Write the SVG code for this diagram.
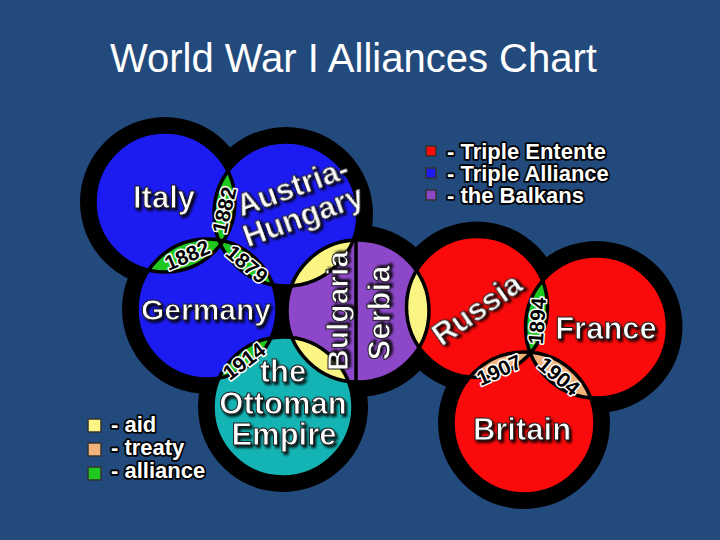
<svg xmlns="http://www.w3.org/2000/svg" width="720" height="540" viewBox="0 0 720 540">
<defs>
<style>
.lbl{font-family:"Liberation Sans",Arial,sans-serif;font-weight:bold;fill:#fff;stroke:#1a1a1a;stroke-width:1;text-anchor:middle;filter:url(#sh)}
.yr{font-family:"Liberation Sans",Arial,sans-serif;font-weight:bold;font-size:21px;fill:#000;stroke:#fff;stroke-width:3;paint-order:stroke;stroke-linejoin:round;text-anchor:middle}
.lg{font-family:"Liberation Sans",Arial,sans-serif;font-weight:bold;font-size:22px;fill:#fff;stroke:#000;stroke-width:3.5;paint-order:stroke;stroke-linejoin:round}
.ol{fill:none;stroke:#000;stroke-width:3.5}
.halo{fill:#000}
.sq{stroke:#333;stroke-width:1.5}
.blue{fill:#1c1cf2}.red{fill:#fa0a0a}.purple{fill:#8c48c8}.teal{fill:#15b4b4}
.yel{fill:#fbf583}.ora{fill:#f2b27c}.grn{fill:#1ec81e}
</style>
<filter id="sh" x="-20%" y="-20%" width="140%" height="160%">
<feDropShadow dx="2" dy="2.5" stdDeviation="0.8" flood-color="#000" flood-opacity="0.85"/>
</filter>
<clipPath id="cItaly"><circle cx="165" cy="202" r="70"/></clipPath>
<clipPath id="cAustria"><circle cx="286" cy="214" r="72"/></clipPath>
<clipPath id="cGermany"><circle cx="207" cy="309" r="70"/></clipPath>
<clipPath id="cOttoman"><circle cx="283" cy="407" r="70"/></clipPath>
<clipPath id="cBalkans"><circle cx="358" cy="311" r="71"/></clipPath>
<clipPath id="cRussia"><circle cx="477" cy="307" r="70.5"/></clipPath>
<clipPath id="cFrance"><circle cx="596.5" cy="327" r="71"/></clipPath>
<clipPath id="cBritain"><circle cx="524" cy="423" r="71"/></clipPath>
</defs>
<rect width="720" height="540" fill="#234a7c"/>
<text x="110" y="72" font-family="'Liberation Sans',Arial,sans-serif" font-size="40" fill="#fff">World War I Alliances Chart</text>

<g id="halo">
<circle class="halo" cx="165" cy="202" r="85"/>
<circle class="halo" cx="286" cy="214" r="87"/>
<circle class="halo" cx="207" cy="309" r="85"/>
<circle class="halo" cx="283" cy="407" r="85"/>
<circle class="halo" cx="358" cy="311" r="86"/>
<circle class="halo" cx="477" cy="307" r="85.5"/>
<circle class="halo" cx="596.5" cy="327" r="86"/>
<circle class="halo" cx="524" cy="423" r="86"/>
</g>

<g id="italy"><circle class="blue" cx="165" cy="202" r="70"/></g>
<g id="austria-hungary"><circle class="blue" cx="286" cy="214" r="72"/></g>
<g id="germany"><circle class="blue" cx="207" cy="309" r="70"/></g>
<g id="ottoman"><circle class="teal" cx="283" cy="407" r="70"/></g>
<g id="balkans"><circle class="purple" cx="358" cy="311" r="71"/></g>
<g id="russia"><circle class="red" cx="477" cy="307" r="70.5"/></g>
<g id="france"><circle class="red" cx="596.5" cy="327" r="71"/></g>
<g id="britain"><circle class="red" cx="524" cy="423" r="71"/></g>

<g id="connectors">
<circle class="grn" cx="286" cy="214" r="72" clip-path="url(#cItaly)"/>
<circle class="grn" cx="207" cy="309" r="70" clip-path="url(#cItaly)"/>
<circle class="grn" cx="207" cy="309" r="70" clip-path="url(#cAustria)"/>
<circle class="grn" cx="283" cy="407" r="70" clip-path="url(#cGermany)"/>
<circle class="yel" cx="358" cy="311" r="71" clip-path="url(#cAustria)"/>
<circle class="yel" cx="358" cy="311" r="71" clip-path="url(#cOttoman)"/>
<circle class="yel" cx="358" cy="311" r="71" clip-path="url(#cRussia)"/>
<circle class="grn" cx="596.5" cy="327" r="71" clip-path="url(#cRussia)"/>
<circle class="ora" cx="524" cy="423" r="71" clip-path="url(#cRussia)"/>
<circle class="ora" cx="524" cy="423" r="71" clip-path="url(#cFrance)"/>
<circle class="ol" cx="165" cy="202" r="70"/>
<circle class="ol" cx="286" cy="214" r="72"/>
<circle class="ol" cx="207" cy="309" r="70"/>
<circle class="ol" cx="283" cy="407" r="70"/>
<circle class="ol" cx="358" cy="311" r="71"/>
<circle class="ol" cx="477" cy="307" r="70.5"/>
<circle class="ol" cx="596.5" cy="327" r="71"/>
<circle class="ol" cx="524" cy="423" r="71"/>
<line x1="356" y1="238" x2="356" y2="384" stroke="#000" stroke-width="3.5"/>
<text class="yr" transform="translate(224,210) rotate(-77)" y="7.5">1882</text>
<text class="yr" transform="translate(187,255) rotate(-23)" y="7.5">1882</text>
<text class="yr" transform="translate(247,264) rotate(40)" y="7.5">1879</text>
<text class="yr" transform="translate(244,361) rotate(-37)" y="7.5">1914</text>
<text class="yr" transform="translate(537,321) rotate(-86)" y="7.5">1894</text>
<text class="yr" transform="translate(499,370) rotate(-24)" y="7.5">1907</text>
<text class="yr" transform="translate(559,376) rotate(40)" y="7.5">1904</text>
</g>

<g id="labels">
<text class="lbl" x="164" y="208" font-size="31">Italy</text>
<g transform="translate(296,197) rotate(-20)">
<text class="lbl" x="0" y="0" font-size="31">Austria-</text>
<text class="lbl" x="0" y="31" font-size="31">Hungary</text>
</g>
<text class="lbl" x="206" y="320" font-size="30">Germany</text>
<text class="lbl" transform="translate(348,311) rotate(-90)" font-size="30">Bulgaria</text>
<text class="lbl" transform="translate(390,313) rotate(-90)" font-size="31">Serbia</text>
<text class="lbl" x="283" y="382" font-size="31">the</text>
<text class="lbl" x="283" y="414" font-size="31">Ottoman</text>
<text class="lbl" x="284" y="445" font-size="31">Empire</text>
<text class="lbl" transform="translate(483,318) rotate(-35)" font-size="31">Russia</text>
<text class="lbl" x="606" y="339" font-size="31">France</text>
<text class="lbl" x="522" y="440" font-size="31">Britain</text>
</g>

<g id="legend-powers">
<rect class="sq red" x="426" y="146" width="10" height="10"/>
<rect class="sq blue" x="426" y="168" width="10" height="10"/>
<rect class="sq purple" x="426" y="190" width="10" height="10"/>
<text class="lg" x="447" y="159">- Triple Entente</text>
<text class="lg" x="447" y="181">- Triple Alliance</text>
<text class="lg" x="447" y="203">- the Balkans</text>
</g>

<g id="legend-links">
<rect class="sq yel" x="88" y="419" width="13" height="13"/>
<rect class="sq ora" x="88" y="443" width="13" height="13"/>
<rect class="sq grn" x="88" y="467" width="13" height="13"/>
<text class="lg" x="111" y="432">- aid</text>
<text class="lg" x="111" y="455">- treaty</text>
<text class="lg" x="111" y="478">- alliance</text>
</g>
</svg>
